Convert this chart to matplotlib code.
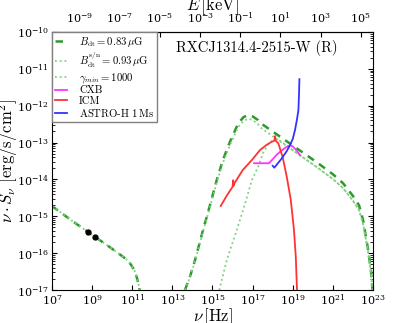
import matplotlib
matplotlib.use('Agg')
import matplotlib.pyplot as plt
import numpy as np

plt.rcParams['mathtext.fontset'] = 'cm'
plt.rcParams['font.family'] = 'DejaVu Serif'

# all values as log10(nu / Hz) and log10(nu S_nu / erg/s/cm^2)
# radio synchrotron (both B fields overlap)
radio_lognu = [7.0, 7.5, 8.0, 8.5, 9.0, 9.5, 10.0, 10.4, 10.7, 10.9, 11.1, 11.22, 11.3, 11.37]
radio_logS = [-14.72, -14.92, -15.12, -15.31, -15.50, -15.69, -15.88, -16.04, -16.16, -16.28, -16.45, -16.64, -16.8, -17.0]

# observed radio points (610 MHz, 1.4 GHz)
obs_lognu = [8.785, 9.146]
obs_logS = [-15.42, -15.56]

# inverse Compton, B_dt = 0.83 muG
ic_lognu = [13.63, 13.9, 14.13, 14.53, 14.88, 15.21, 15.52, 15.87, 16.29, 16.55, 16.77, 17.0, 17.27,
            17.39, 18.0, 18.5, 19.0, 19.5, 20.0, 20.36, 21.0, 21.5, 22.0, 22.3, 22.5, 22.75, 22.9, 22.97]
ic_logS = [-17.0, -16.6, -16.19, -15.37, -14.69, -14.02, -13.47, -12.98, -12.47, -12.31, -12.25, -12.29, -12.39,
           -12.47, -12.7, -12.89, -13.08, -13.27, -13.46, -13.6, -13.86, -14.1, -14.45, -14.7, -15.1, -15.9, -16.5, -17.0]

# inverse Compton, B_dt^s/n = 0.93 muG
icsn_lognu = [13.63, 13.9, 14.13, 14.53, 14.88, 15.21, 15.52, 15.87, 16.29, 16.55, 16.8, 17.0, 17.27,
              17.39, 18.0, 18.5, 19.0, 19.5, 20.0, 20.36, 21.0, 21.5, 22.0, 22.3, 22.5, 22.75, 22.9, 22.97]
icsn_logS = [-17.0, -16.62, -16.22, -15.41, -14.74, -14.08, -13.55, -13.07, -12.57, -12.41, -12.35, -12.39, -12.5,
             -12.59, -12.83, -13.02, -13.21, -13.4, -13.59, -13.73, -13.99, -14.23, -14.58, -14.83, -15.2, -15.95, -16.55, -17.0]

# inverse Compton, gamma_min = 1000
gmin_lognu = [15.34, 15.71, 16.21, 16.6, 16.96, 17.27, 17.52, 17.8, 18.1, 18.4, 19.0, 19.5, 20.0, 20.36,
              21.0, 21.5, 22.0, 22.3, 22.5, 22.75, 22.9, 22.97]
gmin_logS = [-17.0, -16.19, -15.37, -14.7, -14.02, -13.66, -13.28, -13.02, -12.9, -12.96, -13.21, -13.4, -13.59, -13.73,
             -13.99, -14.23, -14.58, -14.83, -15.2, -15.95, -16.55, -17.0]

# cosmic X-ray background
cxb_lognu = [17.07, 17.82, 18.0, 18.2, 18.37, 18.6, 18.78, 18.9, 19.01, 19.2, 19.36]
cxb_logS = [-13.56, -13.56, -13.45, -13.33, -13.25, -13.15, -13.09, -13.08, -13.11, -13.22, -13.34]

# intracluster medium (thermal)
icm_lognu = [15.41, 15.7, 16.0, 16.03, 16.05, 16.1, 16.5, 17.0, 17.37, 17.7, 17.95, 18.08, 18.12, 18.15,
             18.28, 18.5, 18.7, 18.9, 19.06, 19.15, 19.21]
icm_logS = [-14.72, -14.45, -14.2, -14.02, -14.17, -14.1, -13.75, -13.45, -13.2, -13.06, -12.98, -12.95, -12.82, -12.95,
            -13.02, -13.4, -13.93, -14.55, -15.37, -16.1, -17.0]

# ASTRO-H 1 Ms sensitivity
astro_lognu = [18.0, 18.08, 18.2, 18.45, 18.7, 18.86, 19.0, 19.11, 19.2, 19.28, 19.31, 19.33]
astro_logS = [-13.63, -13.68, -13.6, -13.43, -13.23, -13.07, -12.9, -12.66, -12.4, -12.12, -11.7, -11.28]

h_kev = 4.135667e-18  # keV s

def p(a):
    return 10.0 ** np.array(a)

fig = plt.figure(figsize=(4.15, 3.23), dpi=100)
ax = fig.add_axes([0.125, 0.102, 0.774, 0.799])

dash_green = '#2e9a2e'
light_green = '#7fcf7f'

ax.plot(p(radio_lognu), p(radio_logS), ls='--', color=dash_green, lw=1.8, dashes=(3, 2.5),
        label=r'$B_{\rm dt} = 0.83\,\mu{\rm G}$')
ax.plot(p(radio_lognu), p(radio_logS), ls=':', color=light_green, lw=1.3)
ax.plot(p(ic_lognu), p(ic_logS), ls='--', color=dash_green, lw=1.8, dashes=(3, 2.5))
ax.plot(p(icsn_lognu), p(icsn_logS), ls=':', color=light_green, lw=1.3,
        label=r'$B_{\rm dt}^{\rm s/n} = 0.93\,\mu{\rm G}$')
ax.plot(p(gmin_lognu), p(gmin_logS), ls=':', color=light_green, lw=1.3,
        label=r'$\gamma_{min} = 1000$')
ax.plot(p(cxb_lognu), p(cxb_logS), color='#ff33ff', lw=1.3, label='CXB')
ax.plot(p(icm_lognu), p(icm_logS), color='#ff3333', lw=1.3, label='ICM')
ax.plot(p(astro_lognu), p(astro_logS), color='#3333ff', lw=1.3, label=r'ASTRO-H 1$\,$Ms')
ax.plot(p(obs_lognu), p(obs_logS), 'o', color='k', ms=3.5)

ax.set_xscale('log')
ax.set_yscale('log')
ax.set_xlim(1e7, 1e23)
ax.set_ylim(1e-17, 1e-10)

ax.set_xticks([10.0 ** k for k in range(7, 24, 2)])
ax.xaxis.set_minor_locator(matplotlib.ticker.NullLocator())
ax.yaxis.set_major_locator(matplotlib.ticker.LogLocator(base=10, numticks=20))
ax.yaxis.set_minor_locator(matplotlib.ticker.LogLocator(base=10, subs=np.arange(2, 10), numticks=20))
ax.tick_params(which='both', direction='in', right=True, labelsize=8, pad=2)
ax.tick_params(axis='x', which='both', top=False)

ax.set_xlabel(r'$\nu\,[{\rm Hz}]$', fontsize=12)
ax.xaxis.set_label_coords(0.5, -0.062)
ax.set_ylabel(r'$\nu \cdot S_{\nu}\ [{\rm erg/s/cm^2}]$', fontsize=12)
ax.yaxis.set_label_coords(-0.1, 0.5)

top = ax.secondary_xaxis('top', functions=(lambda nu: nu * h_kev, lambda e: e / h_kev))
top.set_xscale('log')
top.set_xticks([10.0 ** k for k in range(-9, 6, 2)])
top.xaxis.set_minor_locator(matplotlib.ticker.NullLocator())
top.tick_params(direction='in', labelsize=8, pad=5)
top.set_xlabel(r'$E\,[{\rm keV}]$', fontsize=12, labelpad=0)

ax.text(0.637, 0.938, 'RXCJ1314.4-2515-W (R)', transform=ax.transAxes,
        ha='center', va='center', fontsize=10.5, family='cmr10')

leg = ax.legend(loc='upper left', bbox_to_anchor=(0, 1), borderaxespad=0,
                prop={'family': 'cmr10', 'size': 7.7},
                handlelength=1.2, handletextpad=1.1, labelspacing=0.1, borderpad=0.25,
                fancybox=False, framealpha=1)
leg.get_frame().set_edgecolor('0.5')

fig.savefig('out.png', dpi=100)
